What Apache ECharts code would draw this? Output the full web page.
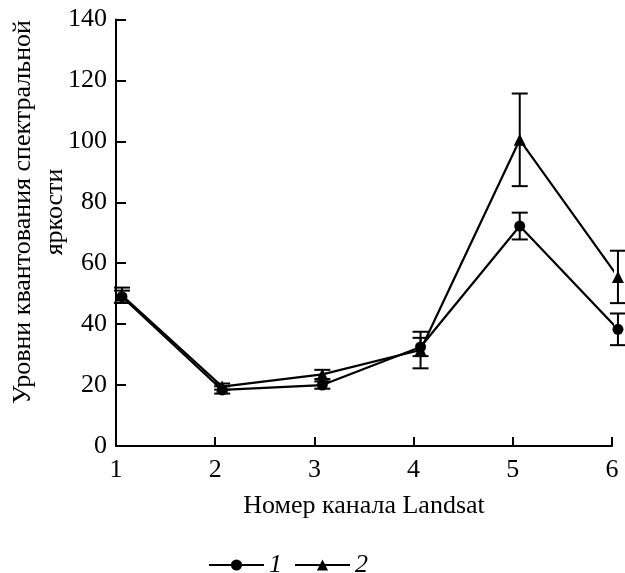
<!DOCTYPE html>
<html><head><meta charset="utf-8">
<script src="https://cdn.jsdelivr.net/npm/echarts@6/dist/echarts.min.js"></script>
<style>html,body{margin:0;padding:0;background:#fff}#c{width:625px;height:573px}</style>
</head><body><div id="c"></div>
<script>
// Landsat channel numbers (tick labels) and plotted x positions of the points
const channels = [1, 2, 3, 4, 5, 6];
const pointX = [1.06, 2.07, 3.08, 4.07, 5.07, 6.06];
// Series 1 (circles)
const s1Values = [49, 18.4, 20, 32.5, 72.2, 38.3];
const s1Errors = [2, 1.2, 1.2, 3, 4.4, 5.2];
// Series 2 (triangles)
const s2Values = [49.5, 19.5, 23.5, 31.5, 100.5, 55.5];
const s2Errors = [2.5, 1, 1.5, 6, 15.2, 8.6];
const seriesNames = ['1', '2'];
const xTitle = 'Номер канала Landsat';
const yTitle = 'Уровни квантования спектральной\nяркости';

const FONT = '"Liberation Serif", "Times New Roman", serif';
const pts = (vals) => vals.map((v, i) => [pointX[i], v]);
const errs = (vals, e) => vals.map((v, i) => [pointX[i], v - e[i], v + e[i]]);

function errItem(params, api) {
  const x = api.value(0);
  const lo = api.coord([x, api.value(1)]);
  const hi = api.coord([x, api.value(2)]);
  const w = 8;
  const st = { stroke: '#000', lineWidth: 2 };
  return { type: 'group', children: [
    { type: 'line', shape: { x1: lo[0], y1: lo[1], x2: hi[0], y2: hi[1] }, style: st },
    { type: 'line', shape: { x1: lo[0] - w, y1: lo[1], x2: lo[0] + w, y2: lo[1] }, style: st },
    { type: 'line', shape: { x1: hi[0] - w, y1: hi[1], x2: hi[0] + w, y2: hi[1] }, style: st }
  ]};
}

const chart = echarts.init(document.getElementById('c'), null, { renderer: 'canvas' });
chart.setOption({
  animation: false,
  backgroundColor: '#fff',
  grid: { left: 116, right: 13, top: 19.5, bottom: 127, containLabel: false },
  xAxis: {
    type: 'value', min: 1, max: 6, interval: 1,
    axisLine: { show: true, lineStyle: { color: '#000', width: 2 } },
    axisTick: { show: true, inside: true, length: 9, lineStyle: { color: '#000', width: 2 } },
    axisLabel: { color: '#000', fontFamily: FONT, fontSize: 26, margin: 11,
      formatter: (v) => channels.includes(v) ? String(v) : '' },
    splitLine: { show: false },
    name: xTitle, nameLocation: 'middle', nameGap: 47,
    nameTextStyle: { color: '#000', fontFamily: FONT, fontSize: 26 }
  },
  yAxis: {
    type: 'value', min: 0, max: 140, interval: 20,
    axisLine: { show: true, lineStyle: { color: '#000', width: 2 } },
    axisTick: { show: true, inside: true, length: 10, lineStyle: { color: '#000', width: 2 } },
    axisLabel: { color: '#000', fontFamily: FONT, fontSize: 26, margin: 9 },
    splitLine: { show: false }
  },
  graphic: [{
    type: 'text', x: 39, y: 212, rotation: Math.PI / 2,
    style: { text: yTitle, fill: '#000', font: '26px ' + FONT, align: 'center',
      verticalAlign: 'middle', lineHeight: 32 }
  }],
  legend: {
    left: 208, top: 552, padding: 0, itemWidth: 55, itemHeight: 14, itemGap: 12,
    data: seriesNames,
    textStyle: { color: '#000', fontFamily: FONT, fontSize: 26, fontStyle: 'italic', padding: [0, 0, 0, 0] }
  },
  series: [
    { name: seriesNames[0], type: 'line', data: pts(s1Values), clip: false,
      symbol: 'circle', symbolSize: 11,
      lineStyle: { color: '#000', width: 2.2 }, itemStyle: { color: '#000' }, z: 3 },
    { name: seriesNames[1], type: 'line', data: pts(s2Values), clip: false,
      symbol: 'triangle', symbolSize: 12,
      lineStyle: { color: '#000', width: 2.2 }, itemStyle: { color: '#000' }, z: 3 },
    { type: 'custom', data: errs(s1Values, s1Errors), renderItem: errItem,
      encode: { x: 0, y: [1, 2] }, clip: false, z: 2 },
    { type: 'custom', data: errs(s2Values, s2Errors), renderItem: errItem,
      encode: { x: 0, y: [1, 2] }, clip: false, z: 2 }
  ]
});
</script></body></html>
